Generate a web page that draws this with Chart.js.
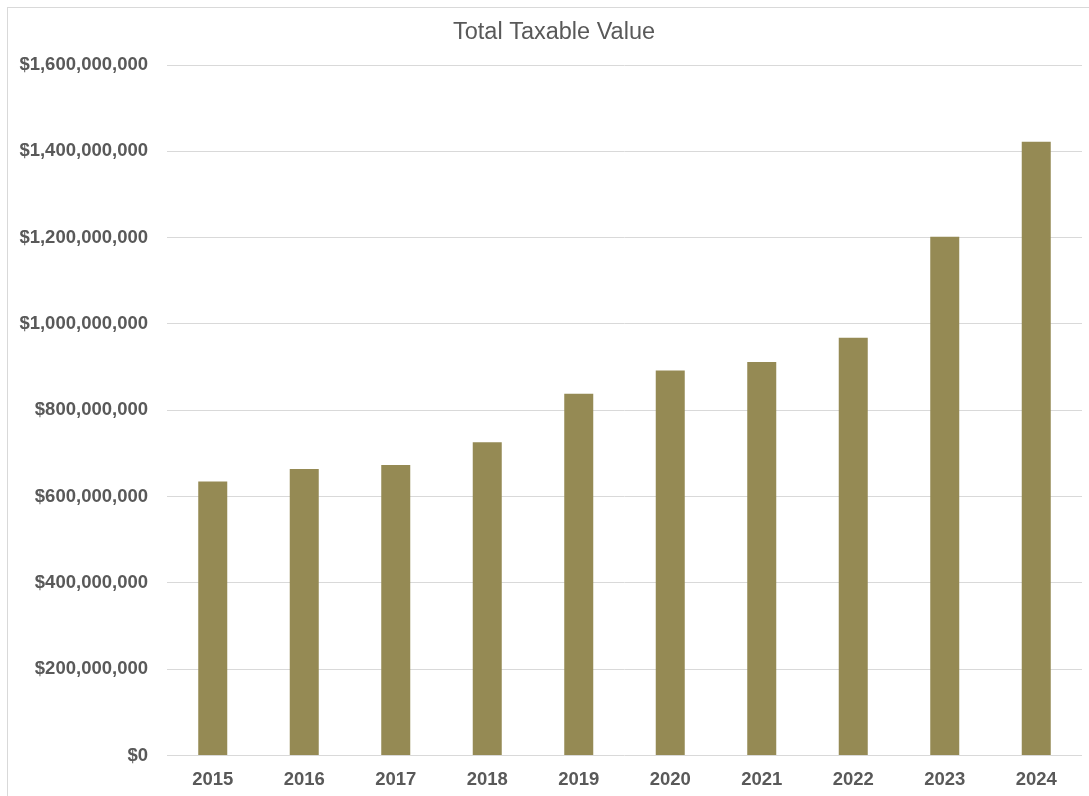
<!DOCTYPE html>
<html lang="en">
<head>
    <meta charset="UTF-8">
    <title>Total Taxable Value</title>
    <script src="https://cdn.jsdelivr.net/npm/chart.js"></script>
    <style>
        body {
            margin: 0;
            background: #fff;
            font-family: 'Liberation Sans', Arial, sans-serif;
        }

        .frame {
            position: absolute;
            left: 7px;
            top: 7px;
            width: 1100px;
            height: 800px;
            border-left: 1px solid #d9d9d9;
            border-top: 1px solid #d9d9d9;
        }

        .chart-box {
            position: absolute;
            left: 0;
            top: 0;
            width: 1089px;
            height: 796px;
        }
    </style>
</head>
<body>
    <div class="frame"></div>
    <div class="chart-box">
        <canvas id="taxChart"></canvas>
    </div>

    <script>
        const years = ['2015', '2016', '2017', '2018', '2019', '2020', '2021', '2022', '2023', '2024'];
        const taxableValue = [635000000, 664000000, 673000000, 726000000, 838000000,
                              892000000, 912000000, 968000000, 1202000000, 1422000000];
        const yTicks = [0, 200000000, 400000000, 600000000, 800000000,
                        1000000000, 1200000000, 1400000000, 1600000000];
        const chartTitle = 'Total Taxable Value';

        const labelColor = '#595959';
        const gridColor = '#d9d9d9';
        const fontFamily = "'Liberation Sans', Arial, sans-serif";
        const tickFont = { family: fontFamily, size: 18.5, weight: 'bold' };

        // title sits a little right of the canvas centre, so draw it by hand
        const titlePlugin = {
            id: 'plainTitle',
            afterDraw(chart) {
                const c = chart.ctx;
                c.save();
                c.font = '23.5px ' + fontFamily;
                c.fillStyle = labelColor;
                c.textAlign = 'center';
                c.textBaseline = 'alphabetic';
                c.fillText(chartTitle, 554, 38.5);
                c.restore();
            }
        };

        const ctx = document.getElementById('taxChart').getContext('2d');

        const taxChart = new Chart(ctx, {
            type: 'bar',
            data: {
                labels: years,
                datasets: [{
                    label: chartTitle,
                    data: taxableValue,
                    backgroundColor: '#958a54',
                    borderWidth: 0,
                    categoryPercentage: 1,
                    barPercentage: 0.317
                }]
            },
            plugins: [titlePlugin],
            options: {
                responsive: true,
                maintainAspectRatio: false,
                animation: false,
                layout: {
                    padding: { left: 0, right: 7, top: 65, bottom: 7.5 }
                },
                plugins: {
                    legend: { display: false },
                    tooltip: { enabled: false },
                    title: { display: false }
                },
                scales: {
                    x: {
                        afterFit(scale) {
                            scale.height = 33;
                        },
                        grid: { display: false, drawTicks: false },
                        border: { display: false },
                        ticks: {
                            color: labelColor,
                            font: tickFont,
                            padding: 13.5,
                            maxRotation: 0
                        }
                    },
                    y: {
                        min: 0,
                        max: 1600000000,
                        afterFit(scale) {
                            scale.width = 167;
                        },
                        afterBuildTicks(scale) {
                            scale.ticks = yTicks.map(v => ({ value: v }));
                        },
                        grid: {
                            color: gridColor,
                            lineWidth: 1,
                            drawTicks: false
                        },
                        border: { display: false },
                        ticks: {
                            color: labelColor,
                            font: tickFont,
                            padding: 19,
                            callback: v => '$' + Number(v).toLocaleString('en-US')
                        }
                    }
                }
            }
        });
    </script>
</body>
</html>
